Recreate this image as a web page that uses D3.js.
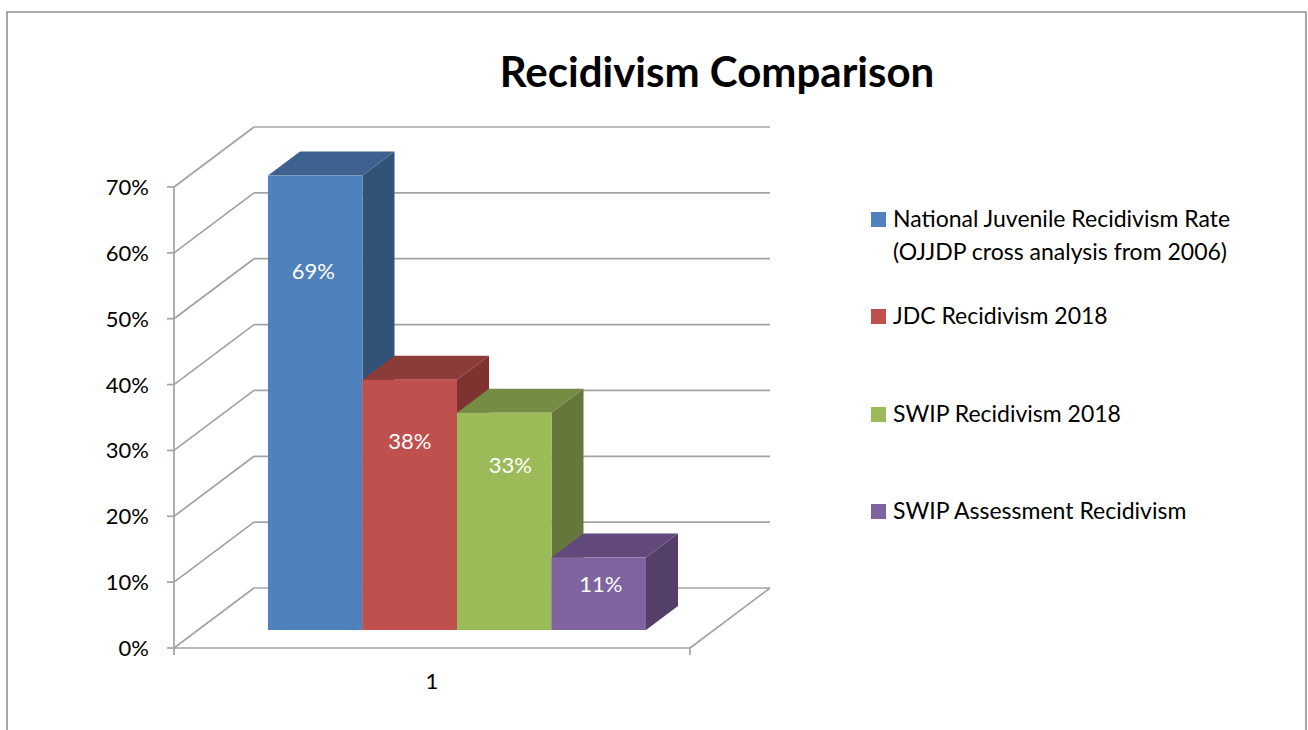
<!DOCTYPE html>
<html><head><meta charset="utf-8">
<script src="https://cdn.jsdelivr.net/npm/d3@7/dist/d3.min.js"></script>
<style>html,body{margin:0;padding:0;background:#fff;overflow:hidden}svg{display:block}text{font-family:Lato,"Open Sans",sans-serif}</style>
</head><body><svg id="c" width="1308" height="730"></svg>
<script>
const titleText = "Recidivism Comparison";
const category = "1";
const seriesNames = ["National Juvenile Recidivism Rate|(OJJDP cross analysis from 2006)","JDC Recidivism 2018","SWIP Recidivism 2018","SWIP Assessment Recidivism"];
const seriesValues = [0.69,0.38,0.33,0.11];
const frontColors = ["#4f81bd","#c0504d","#9bbb59","#8064a2"];
const sideColors = ["#335278","#7e3331","#65773a","#543f68"];
const topColors = ["#3e618f","#8c3b39","#748c44","#614a7b"];
const tickValues = [0,0.1,0.2,0.3,0.4,0.5,0.6,0.7];
const legendY = [219,316,414,511];

const svg = d3.select("#c");
const gridC = "#a3a3a3";
const y = d3.scaleLinear().domain([0,0.7]).range([648,187]);
const xFloor = d3.scaleLinear().domain([0,1]).range([174,690]);
const wall = {dx:80,dy:-60};
const barX = d3.scaleBand().domain(d3.range(seriesValues.length)).range([268,646]);
const barLift = 18, barD = {dx:32,dy:-24};
const poly = pts => pts.map(p=>p.join(",")).join(" ");
const line = (x1,y1,x2,y2,c=gridC,w=1.7)=>svg.append("line").attr("x1",x1).attr("y1",y1).attr("x2",x2).attr("y2",y2).attr("stroke",c).attr("stroke-width",w);

// chart frame
svg.append("path").attr("d","M7,730V12H1306V730").attr("fill","none").attr("stroke","#8c8c8c").attr("stroke-width",1.5);

// title
svg.append("text").attr("x",717).attr("y",87).attr("text-anchor","middle").attr("font-size",42).attr("font-weight",700).attr("fill","#000").text(titleText);

// walls and grid
tickValues.forEach(v=>{
  const yy=y(v);
  line(174,yy,174+wall.dx,yy+wall.dy);
  line(174+wall.dx,yy+wall.dy,xFloor(1)+wall.dx,yy+wall.dy);
  line(167,yy,174,yy);
  svg.append("text").attr("x",149).attr("y",yy+8).attr("text-anchor","end").attr("font-size",22).attr("fill","#000").text(d3.format(".0%")(v));
});
line(174,y(0.7),174,655);
line(174,y(0),xFloor(1),y(0));
line(xFloor(1),y(0),xFloor(1)+wall.dx,y(0)+wall.dy);
line(xFloor(1),y(0),xFloor(1),655);

// bars
seriesValues.forEach((v,i)=>{
  const x0=barX(i),x1=x0+barX.bandwidth(),b=y(0)-barLift,t=y(v)-barLift;
  const g=svg.append("g");
  g.append("polygon").attr("points",poly([[x1,t],[x1+barD.dx,t+barD.dy],[x1+barD.dx,b+barD.dy],[x1,b]])).attr("fill",sideColors[i]);
  g.append("polygon").attr("points",poly([[x0,t],[x0+barD.dx,t+barD.dy],[x1+barD.dx,t+barD.dy],[x1,t]])).attr("fill",topColors[i]);
  g.append("rect").attr("x",x0).attr("y",t).attr("width",x1-x0).attr("height",b-t).attr("fill",frontColors[i]);
});
const labelY=[279,449,473,592];
seriesValues.forEach((v,i)=>{
  svg.append("text").attr("x",barX(i)+barX.bandwidth()/2+(i==2?6:i==3?2:0-(i==1?0:2))).attr("y",labelY[i])
    .attr("text-anchor","middle").attr("font-size",22).attr("fill","#fff").text(d3.format(".0%")(v));
});

// category label
svg.append("text").attr("x",432).attr("y",689).attr("text-anchor","middle").attr("font-size",22).attr("fill","#000").text(category);

// legend
seriesNames.forEach((n,i)=>{
  svg.append("rect").attr("x",871).attr("y",legendY[i]-7).attr("width",15).attr("height",15).attr("fill",frontColors[i]);
  n.split("|").forEach((s,j)=>svg.append("text").attr("x",893).attr("y",legendY[i]+8+j*33).attr("font-size",23).attr("fill","#000").text(s));
});
</script></body></html>
